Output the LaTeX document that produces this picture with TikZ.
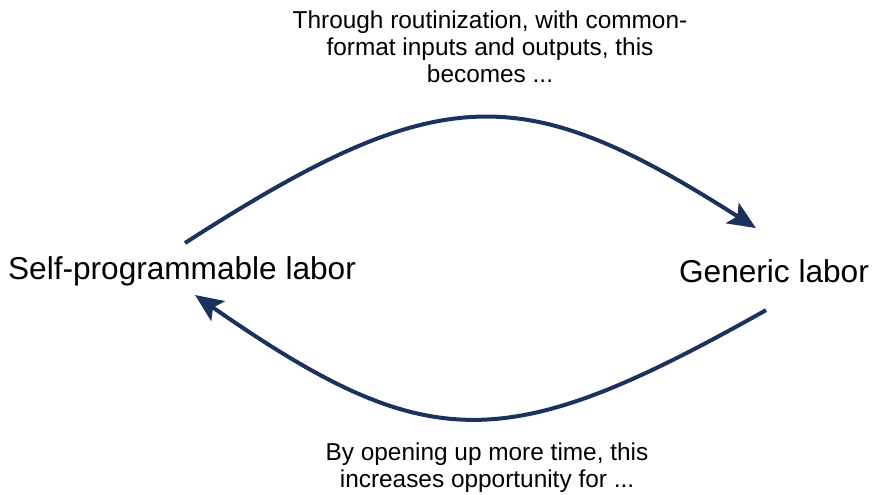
\documentclass[tikz,border=0pt]{standalone}
\usepackage{fontspec}
\setmainfont{Liberation Sans}
\usetikzlibrary{arrows.meta,positioning}

\definecolor{navy}{RGB}{27,49,94}
\tikzset{
  labor/.style={font=\fontsize{15.8}{18}\selectfont,anchor=base,inner sep=0pt},
  note/.style={font=\fontsize{12.2}{13.5}\selectfont,align=center,anchor=base,inner sep=0pt},
  flow/.style={draw=navy,line width=2pt,-{Stealth[length=14pt,width=12pt,inset=3pt]}}
}

\begin{document}
\begin{tikzpicture}[x=0.5pt,y=-0.5pt,node distance=296pt,on grid]
		\useasboundingbox (0,0) rectangle (873,494);
		\node[labor] (self) at (182,279) {Self-programmable labor};
		\node[labor] (gen) [right=of self] {Generic labor};
		% base of a multi-line note is its last line
		\node[note] (top) at (490,82) {Through routinization, with common-\\format inputs and outputs, this\\becomes ...};
		\node[note] (bot) at (487,487) {By opening up more time, this\\increases opportunity for ...};
		\path[flow]
		([shift={(3,-36)}]self.base) .. controls (440,79) and (522,79) .. ([shift={(-18,-54)}]gen.base);
		\path[flow]
		([shift={(-8,28)}]gen.base) .. controls (505,457) and (428,457) .. ([shift={(13,16)}]self.base);
		\end{tikzpicture}
\end{document}
